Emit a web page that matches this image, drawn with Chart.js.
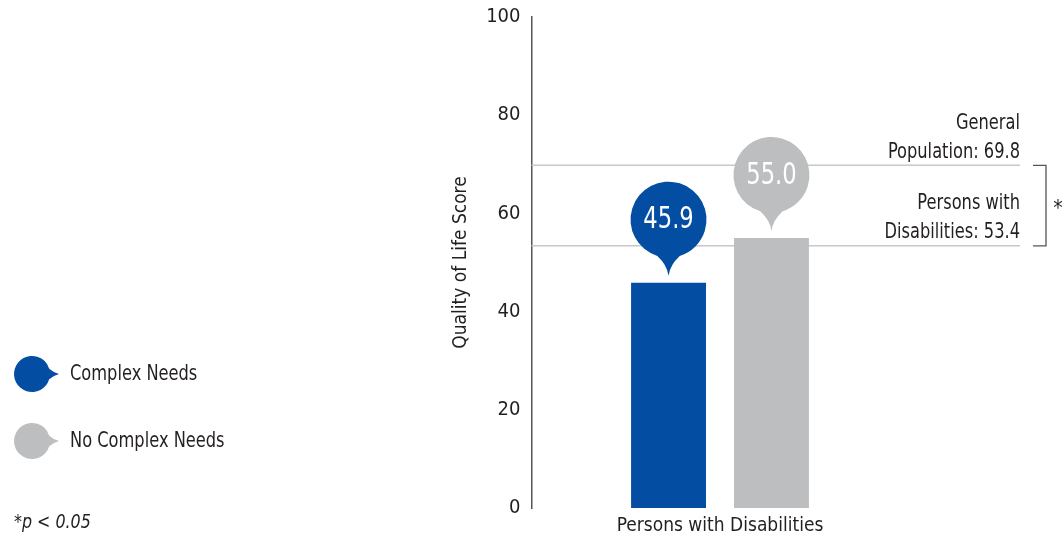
<!DOCTYPE html>
<html>
<head>
<meta charset="utf-8">
<script src="https://cdn.jsdelivr.net/npm/chart.js@4.4.1/dist/chart.umd.min.js"></script>
<style>
html, body { margin: 0; padding: 0; background: #fff; }
#wrap { width: 1064px; height: 539px; }
</style>
</head>
<body>
<div id="wrap"><canvas id="qolChart" width="1064" height="539"></canvas></div>
<script>
// data
const categories = ['Persons with Disabilities'];
const seriesNames = ['Complex Needs', 'No Complex Needs'];
const seriesValues = [[45.9], [55.0]];
const seriesColors = ['#034ea2', '#bdbec0'];
const refLabels = [['General', 'Population: 69.8'], ['Persons with', 'Disabilities: 53.4']];
const refValues = [69.8, 53.4];
const yTicks = [0, 20, 40, 60, 80, 100];
const footnote = '*p < 0.05';

const FONT = "'Liberation Sans Narrow', 'DejaVu Sans Condensed', sans-serif";
const TEXT = '#231f20';

// speech-bubble marker: circle with a small tail pointing at angle `dir`
function bubble(ctx, cx, cy, r, tail, dir, color) {
    const a = 0.3;
    ctx.save();
    ctx.translate(cx, cy);
    ctx.rotate(dir - Math.PI / 2);
    ctx.beginPath();
    ctx.arc(0, 0, r, Math.PI / 2 + a, Math.PI / 2 - a + Math.PI * 2);
    ctx.quadraticCurveTo(1.5, r + tail * 0.4, 0, r + tail);
    ctx.quadraticCurveTo(-1.5, r + tail * 0.4, -r * Math.sin(a), r * Math.cos(a));
    ctx.closePath();
    ctx.fillStyle = color;
    ctx.fill();
    ctx.restore();
}

// narrow text: draw squeezed horizontally so it reads like a condensed face
function narrowText(ctx, str, x, y, align, sx) {
    ctx.save();
    ctx.translate(x, y);
    ctx.scale(sx, 1);
    ctx.textAlign = align;
    ctx.fillText(str, 0, 0);
    ctx.restore();
}

const decor = {
    id: 'decor',
    beforeDatasetsDraw(chart) {
        const ctx = chart.ctx;
        const y = chart.scales.y;
        const left = chart.chartArea.left;
        ctx.save();
        // reference lines + labels
        refValues.forEach((v, i) => {
            const py = y.getPixelForValue(v);
            ctx.strokeStyle = '#c8c8c8';
            ctx.lineWidth = 1.5;
            ctx.beginPath();
            ctx.moveTo(left, py);
            ctx.lineTo(1020, py);
            ctx.stroke();
            ctx.fillStyle = TEXT;
            ctx.font = '21px ' + FONT;
            ctx.textBaseline = 'middle';
            narrowText(ctx, refLabels[i][0], 1020, py - 42, 'right', 0.86);
            narrowText(ctx, refLabels[i][1], 1020, py - 13, 'right', 0.86);
        });
        // significance bracket
        const y1 = y.getPixelForValue(refValues[0]);
        const y2 = y.getPixelForValue(refValues[1]);
        ctx.strokeStyle = '#555';
        ctx.lineWidth = 1.3;
        ctx.beginPath();
        ctx.moveTo(1033, y1);
        ctx.lineTo(1046, y1);
        ctx.lineTo(1046, y2);
        ctx.lineTo(1033, y2);
        ctx.stroke();
        ctx.fillStyle = TEXT;
        ctx.font = '21px ' + FONT;
        ctx.textAlign = 'center';
        ctx.fillText('*', 1058, (y1 + y2) / 2 + 4);
        ctx.restore();
    },
    afterDatasetsDraw(chart) {
        const ctx = chart.ctx;
        ctx.save();
        // value bubbles above each bar
        chart.data.datasets.forEach((ds, i) => {
            chart.getDatasetMeta(i).data.forEach((bar, j) => {
                const r = 38;
                const tipY = bar.y - 7;
                const cy = tipY - 18 - r;
                bubble(ctx, bar.x, cy, r, 18, Math.PI / 2, ds.backgroundColor);
                ctx.fillStyle = '#fff';
                ctx.font = '30px ' + FONT;
                ctx.textBaseline = 'middle';
                narrowText(ctx, ds.data[j].toFixed(1), bar.x, cy + 1, 'center', 0.84);
            });
        });
        // legend
        seriesNames.forEach((name, i) => {
            const cy = 374 + i * 67;
            bubble(ctx, 32, cy, 18, 9, 0, seriesColors[i]);
            ctx.fillStyle = TEXT;
            ctx.font = '21px ' + FONT;
            ctx.textBaseline = 'middle';
            narrowText(ctx, name, 70, cy + 1, 'left', 0.86);
        });
        // footnote
        ctx.font = 'italic 19px ' + FONT;
        narrowText(ctx, footnote, 14, 523, 'left', 0.93);
        ctx.restore();
    }
};

new Chart(document.getElementById('qolChart'), {
    type: 'bar',
    data: {
        labels: categories,
        datasets: seriesNames.map((name, i) => ({
            label: name,
            data: seriesValues[i],
            backgroundColor: seriesColors[i],
            categoryPercentage: 0.546,
            barPercentage: 0.728
        }))
    },
    options: {
        responsive: false,
        animation: false,
        layout: { padding: { left: 440, right: 155.5, top: 17, bottom: 0 } },
        plugins: {
            legend: { display: false },
            tooltip: { enabled: false }
        },
        scales: {
            x: {
                grid: { display: false, drawTicks: false },
                border: { display: false },
                ticks: { color: TEXT, font: { family: FONT, size: 19 }, padding: 7 },
                afterFit: s => { s.height = 31; }
            },
            y: {
                min: 0,
                max: 100,
                afterBuildTicks: s => { s.ticks = yTicks.map(v => ({ value: v })); },
                grid: { display: false, drawTicks: false },
                border: { display: true, color: '#555', width: 1.5 },
                ticks: { color: TEXT, font: { family: FONT, size: 20 }, padding: 11 },
                title: {
                    display: true,
                    text: 'Quality of Life Score',
                    color: TEXT,
                    font: { family: FONT, size: 19 },
                    padding: { top: 10, bottom: 0 }
                },
                afterFit: s => {
                    s.width = 91.5;
                    s.paddingTop = 0;
                    s.paddingBottom = 0;
                }
            }
        }
    },
    plugins: [decor]
});
</script>
</body>
</html>
